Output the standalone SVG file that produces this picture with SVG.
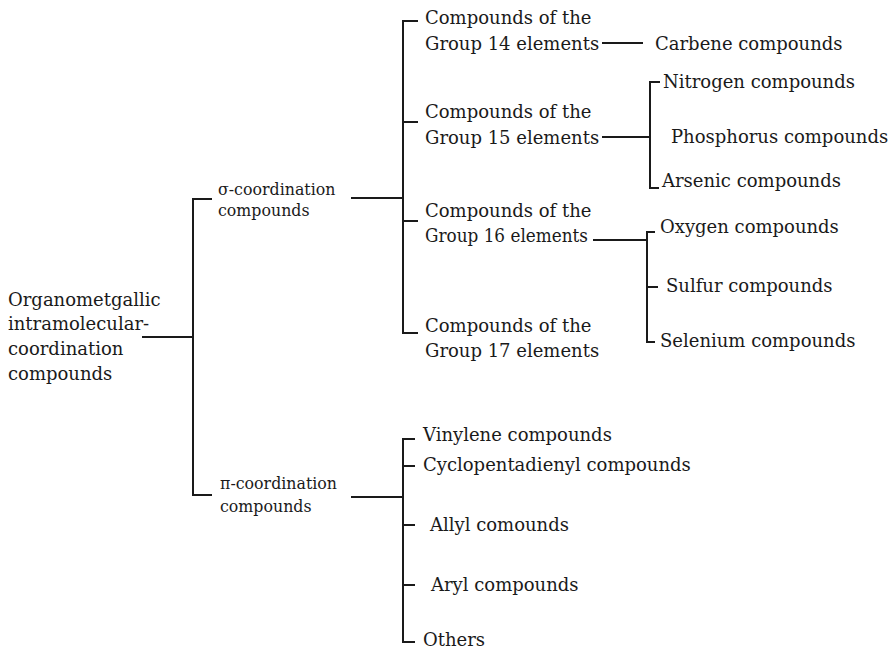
<svg xmlns="http://www.w3.org/2000/svg" width="893" height="650" viewBox="0 0 893 650">
<style>
text{font-family:"DejaVu Serif","Liberation Serif",serif;fill:#1a1a1a;font-size:18px}
.s{font-size:15.8px}
.c line,.c path{stroke:#1a1a1a;stroke-width:2;fill:none}
</style>
<rect width="893" height="650" fill="#fff"/>
<g class="c" id="connectors">
<line x1="142" y1="337" x2="193" y2="337"/>
<path d="M212,199H193V495H212"/>
<line x1="351" y1="198" x2="403" y2="198"/>
<path d="M418,21H403V333H418"/>
<line x1="403" y1="122" x2="418" y2="122"/>
<line x1="403" y1="221" x2="418" y2="221"/>
<line x1="602" y1="43" x2="643" y2="43"/>
<line x1="602" y1="137" x2="650" y2="137"/>
<path d="M660,82H650V188H659"/>
<line x1="593" y1="240" x2="647" y2="240"/>
<path d="M655,232H647V342H655"/>
<line x1="647" y1="287" x2="658" y2="287"/>
<line x1="351" y1="497" x2="403" y2="497"/>
<path d="M415,439H403V642H415"/>
<line x1="403" y1="466" x2="415" y2="466"/>
<line x1="403" y1="525" x2="415" y2="525"/>
<line x1="403" y1="585" x2="415" y2="585"/>
</g>
<g id="root"><text x="8" y="306">Organometgallic</text><text x="8" y="330">intramolecular-</text><text x="8" y="355">coordination</text><text x="8" y="380">compounds</text></g>
<g id="sigma"><text class="s" x="218" y="195">σ-coordination</text><text class="s" x="218" y="216">compounds</text></g>
<g id="pi"><text class="s" x="220" y="489">π-coordination</text><text class="s" x="220" y="512">compounds</text></g>
<g id="g14"><text x="425" y="24">Compounds of the</text><text x="425" y="50">Group 14 elements</text></g>
<g id="g15"><text x="425" y="118">Compounds of the</text><text x="425" y="144">Group 15 elements</text></g>
<g id="g16"><text x="425" y="217">Compounds of the</text><text x="425" y="242" textLength="163" lengthAdjust="spacingAndGlyphs">Group 16 elements</text></g>
<g id="g17"><text x="425" y="332">Compounds of the</text><text x="425" y="357">Group 17 elements</text></g>
<g id="carbene"><text x="655" y="50">Carbene compounds</text></g>
<g id="nitrogen"><text x="663" y="88">Nitrogen compounds</text></g>
<g id="phosphorus"><text x="671" y="143">Phosphorus compounds</text></g>
<g id="arsenic"><text x="662" y="187">Arsenic compounds</text></g>
<g id="oxygen"><text x="660" y="233">Oxygen compounds</text></g>
<g id="sulfur"><text x="666" y="292">Sulfur compounds</text></g>
<g id="selenium"><text x="660" y="347">Selenium compounds</text></g>
<g id="vinylene"><text x="423" y="441">Vinylene compounds</text></g>
<g id="cyclopentadienyl"><text x="423" y="471">Cyclopentadienyl compounds</text></g>
<g id="allyl"><text x="430" y="531">Allyl comounds</text></g>
<g id="aryl"><text x="431" y="591">Aryl compounds</text></g>
<g id="others"><text x="423" y="646">Others</text></g>
</svg>
